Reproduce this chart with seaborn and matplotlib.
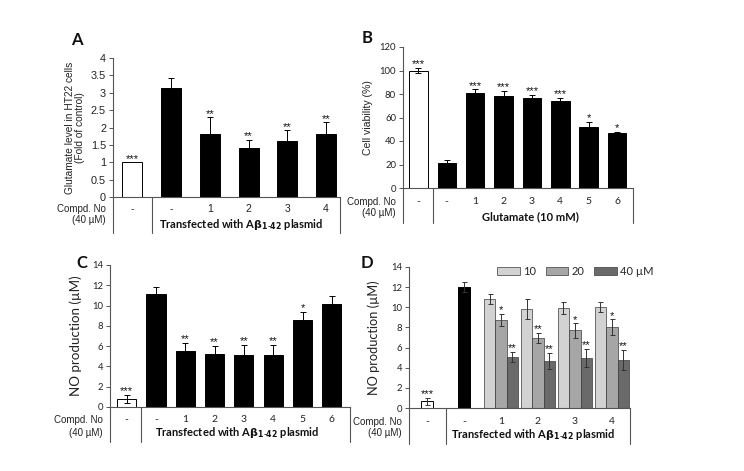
import numpy as np
import pandas as pd
import matplotlib
matplotlib.use("Agg")
import matplotlib.pyplot as plt
import matplotlib.transforms as mtrans
import seaborn as sns

sns.set_theme(style="white")
plt.rcParams["font.family"] = ["Liberation Sans", "DejaVu Sans"]

# ---------------- data ----------------
# Panel A
a_cats = ["ctrl", "ab", "1", "2", "3", "4"]
a_labels = ["-", "-", "1", "2", "3", "4"]
a_vals = [1.0, 3.15, 1.82, 1.42, 1.60, 1.80]
a_errs = [0.0, 0.28, 0.47, 0.22, 0.32, 0.35]
a_stars = ["***", "", "**", "**", "**", "**"]
a_yticks = [0, 0.5, 1, 1.5, 2, 2.5, 3, 3.5, 4]

# Panel B
b_cats = ["ctrl", "glu", "1", "2", "3", "4", "5", "6"]
b_labels = ["-", "-", "1", "2", "3", "4", "5", "6"]
b_vals = [100, 21.5, 81, 78, 77, 74, 51.5, 46.5]
b_errs = [2.5, 2.5, 3.0, 4.5, 2.0, 2.5, 5.0, 1.5]
b_stars = ["***", "", "***", "***", "***", "***", "*", "*"]
b_yticks = [0, 20, 40, 60, 80, 100, 120]

# Panel C
c_cats = ["ctrl", "ab", "1", "2", "3", "4", "5", "6"]
c_labels = ["-", "-", "1", "2", "3", "4", "5", "6"]
c_vals = [0.8, 11.1, 5.5, 5.25, 5.15, 5.1, 8.6, 10.2]
c_errs = [0.4, 0.7, 0.8, 0.8, 0.95, 1.0, 0.8, 0.75]
c_stars = ["***", "", "**", "**", "**", "**", "*", ""]
c_yticks = [0, 2, 4, 6, 8, 10, 12, 14]

# Panel D
d_cats = ["ctrl", "ab", "1", "2", "3", "4"]
d_labels = ["-", "-", "1", "2", "3", "4"]
d_single_cats = ["ctrl", "ab"]
d_single_vals = [0.65, 12.0]
d_single_errs = [0.35, 0.5]
d_single_stars = ["***", ""]
d_group_cats = ["1", "2", "3", "4"]
d_conc = ["10", "20", "40 µM"]
d_vals_10 = [10.85, 9.85, 9.9, 10.0]
d_errs_10 = [0.5, 1.0, 0.6, 0.5]
d_stars_10 = ["", "", "", ""]
d_vals_20 = [8.75, 6.95, 7.7, 8.0]
d_errs_20 = [0.6, 0.5, 0.7, 0.8]
d_stars_20 = ["*", "**", "*", "*"]
d_vals_40 = [5.1, 4.65, 4.95, 4.75]
d_errs_40 = [0.5, 0.8, 0.9, 1.0]
d_stars_40 = ["**", "**", "**", "**"]
d_colors = ["#d2d2d2", "#a6a6a6", "#6a6a6a"]

# ---------------- figure ----------------
W, H = 744, 471
fig = plt.figure(figsize=(W / 100, H / 100), dpi=100)
fig.patch.set_facecolor("white")


def add_ax(x0, x1, ytop, ybot):
    return fig.add_axes([x0 / W, 1 - ybot / H, (x1 - x0) / W, (ybot - ytop) / H])


axA = add_ax(113, 340, 58, 197)
axB = add_ax(403, 633, 47, 188)
axC = add_ax(110, 350, 265, 407)
axD = add_ax(409, 630, 267, 408)

SPINE = "#555555"
CAL = ["Lato", "DejaVu Sans"]
ARIAL = ["Liberation Sans", "DejaVu Sans"]
STAR_SIZE = 8


def style(ax, ylim, yticks, tick_font, tick_size, ylabel, ylabel_size, ylabel_font,
          xlim, labelpad=4):
    ax.set_ylim(*ylim)
    ax.set_xlim(*xlim)
    ax.set_yticks(yticks)
    ax.set_yticklabels([f"{t:g}" for t in yticks], fontsize=tick_size,
                       family=tick_font, color="#222222")
    ax.set_xticks([])
    ax.set_xlabel("")
    ax.set_ylabel(ylabel, fontsize=ylabel_size, family=ylabel_font, color="#222222",
                  labelpad=labelpad, linespacing=1.05)
    for s in ["top", "right"]:
        ax.spines[s].set_visible(False)
    for s in ["left", "bottom"]:
        ax.spines[s].set_color(SPINE)
        ax.spines[s].set_linewidth(0.8)
    ax.tick_params(axis="y", length=3, width=0.7, color=SPINE, direction="out",
                   pad=2, left=True)
    ax.set_facecolor("white")


def simple_bars(ax, cats, vals, errs, stars, width, ecolor="black"):
    df = pd.DataFrame({"cat": cats, "val": vals})
    pal = {c: ("white" if c == "ctrl" else "black") for c in cats}
    n0 = len(ax.patches)
    sns.barplot(data=df, x="cat", y="val", hue="cat", palette=pal, order=None,
                hue_order=cats, width=width, dodge=False, legend=False,
                edgecolor="black", linewidth=0.7, saturation=1, ax=ax, errorbar=None)
    new = ax.patches[n0:]
    new = sorted(new, key=lambda p: p.get_x())
    for p, v, e, s in zip(new, vals, errs, stars):
        cx = p.get_x() + p.get_width() / 2
        if e > 0:
            ax.errorbar(cx, v, yerr=e, fmt="none", ecolor=ecolor, elinewidth=0.7,
                        capsize=2, capthick=0.7)
        if s:
            ax.annotate(s, (cx, v + e), xytext=(0, -1.0), textcoords="offset points",
                        ha="center", va="bottom", fontsize=STAR_SIZE, color="#111111")


def table(ax, labels, group_label, group_x, first_sep, row1, row2, grp, line_px, lbl_font):
    trans = mtrans.blended_transform_factory(ax.transData, ax.transAxes)
    for i, lab in enumerate(labels):
        ax.annotate(lab, (i, 0), xycoords=trans, xytext=(0, -row1 * 0.72),
                    textcoords="offset points", ha="center", va="center",
                    fontsize=7.5, family=lbl_font, color="#222222")
    ax.annotate("Compd. No", (0, 0), xycoords="axes fraction",
                xytext=(-5, -row1 * 0.72), textcoords="offset points",
                ha="right", va="center", fontsize=7, color="#222222")
    ax.annotate("(40 µM)", (0, 0), xycoords="axes fraction",
                xytext=(-5, -row2 * 0.72), textcoords="offset points",
                ha="right", va="center", fontsize=7, color="#222222")
    ax.annotate(group_label, (group_x, 0), xycoords=trans,
                xytext=(0, -grp * 0.72), textcoords="offset points",
                ha="center", va="center", fontsize=8, fontweight="bold",
                family=CAL, color="#111111")
    bbox = ax.get_position()
    frac = line_px / (bbox.height * H)
    xl = ax.get_xlim()
    for x in [xl[0], first_sep, xl[1]]:
        ax.plot([x, x], [0, -frac], transform=trans, clip_on=False,
                color=SPINE, lw=0.8)


AB_LABEL = r"Transfected with A$\mathbf{\beta}_{\mathbf{1\text{-}42}}$ plasmid"

# ---- Panel A ----
simple_bars(axA, a_cats, a_vals, a_errs, a_stars, 0.52)
style(axA, (0, 4), a_yticks, ARIAL, 7.8,
      "Glutamate level in HT22 cells\n(Fold of control)", 7.3, ARIAL, (-0.5, 5.36),
      labelpad=4)
table(axA, a_labels, AB_LABEL, 2.8, 0.5, 12, 23, 27, 36, ARIAL)

# ---- Panel B ----
simple_bars(axB, b_cats, b_vals, b_errs, b_stars, 0.65)
style(axB, (0, 120), b_yticks, CAL, 6.8, "Cell viability (%)", 7.6, ARIAL, (-0.54, 7.56),
      labelpad=5)
table(axB, b_labels, "Glutamate (10 mM)", 3.96, 0.5, 14, 25, 29, 35, CAL)

# ---- Panel C ----
simple_bars(axC, c_cats, c_vals, c_errs, c_stars, 0.65)
style(axC, (0, 14), c_yticks, CAL, 6.8, "NO production (µM)", 9.6, CAL, (-0.57, 7.62),
      labelpad=7)
table(axC, c_labels, AB_LABEL, 3.75, 0.5, 13, 26, 26, 35, CAL)

# ---- Panel D ----
dfg = pd.DataFrame({
    "cat": d_group_cats * 3,
    "conc": [d_conc[0]] * 4 + [d_conc[1]] * 4 + [d_conc[2]] * 4,
    "val": d_vals_10 + d_vals_20 + d_vals_40,
})
sns.barplot(data=dfg, x="cat", y="val", hue="conc", order=d_cats, hue_order=d_conc,
            palette=dict(zip(d_conc, d_colors)), width=0.93, legend=False,
            edgecolor="#3a3a3a", linewidth=0.5, saturation=1, ax=axD, errorbar=None)
group_containers = list(axD.containers[:3])
for cont, vals, errs, stars in zip(group_containers,
                                   [d_vals_10, d_vals_20, d_vals_40],
                                   [d_errs_10, d_errs_20, d_errs_40],
                                   [d_stars_10, d_stars_20, d_stars_40]):
    ps = sorted(list(cont), key=lambda p: p.get_x())
    for p, v, e, s in zip(ps, vals, errs, stars):
        cx = p.get_x() + p.get_width() / 2
        axD.errorbar(cx, v, yerr=e, fmt="none", ecolor="#333333", elinewidth=0.7,
                     capsize=1.8, capthick=0.7)
        if s:
            axD.annotate(s, (cx, v + e), xytext=(0, -1.0), textcoords="offset points",
                         ha="center", va="bottom", fontsize=STAR_SIZE, color="#111111")
dfs = pd.DataFrame({"cat": d_single_cats, "val": d_single_vals})
n0 = len(axD.patches)
sns.barplot(data=dfs, x="cat", y="val", hue="cat", order=d_cats,
            hue_order=d_single_cats, palette={"ctrl": "white", "ab": "black"},
            width=0.31, dodge=False, legend=False, edgecolor="black", linewidth=0.7,
            saturation=1, ax=axD, errorbar=None)
ps = sorted(axD.patches[n0:], key=lambda p: p.get_x())
for p, v, e, s in zip(ps, d_single_vals, d_single_errs, d_single_stars):
    cx = p.get_x() + p.get_width() / 2
    axD.errorbar(cx, v, yerr=e, fmt="none", ecolor="#333333", elinewidth=0.7,
                 capsize=1.8, capthick=0.7)
    if s:
        axD.annotate(s, (cx, v + e), xytext=(0, -1.0), textcoords="offset points",
                     ha="center", va="bottom", fontsize=STAR_SIZE, color="#111111")
style(axD, (0, 14), c_yticks, CAL, 6.8, "NO production (µM)", 9.2, CAL, (-0.49, 5.49),
      labelpad=8)
leg = axD.legend(handles=[c[0] for c in group_containers], labels=d_conc,
                 loc="upper left", bbox_to_anchor=(0.38, 1.04), ncol=3, frameon=False,
                 fontsize=8, handlelength=2.0, handleheight=0.7, columnspacing=0.9,
                 handletextpad=0.3, borderaxespad=0)
for t in leg.get_texts():
    t.set_family(CAL)
table(axD, d_labels, AB_LABEL, 2.86, 0.5, 14, 25, 26, 36, CAL)

# panel letters
for letter, x, y in [("A", 77, 40), ("B", 367, 38), ("C", 82, 263), ("D", 367, 263)]:
    fig.text(x / W, 1 - y / H, letter, fontsize=12, fontweight="bold",
             family=CAL, ha="center", va="center", color="#111111")

fig.savefig("out.png", dpi=100, facecolor="white")
